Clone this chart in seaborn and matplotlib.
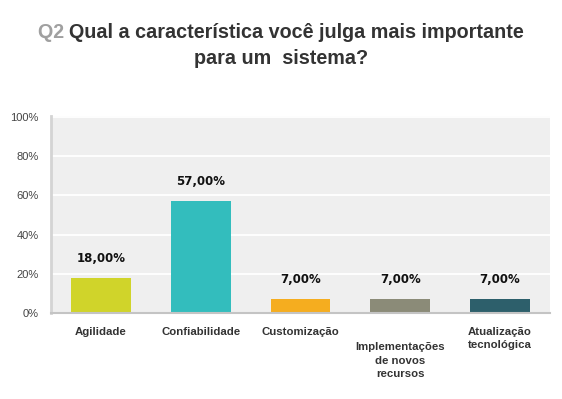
import matplotlib
matplotlib.use("Agg")
import matplotlib.pyplot as plt
import seaborn as sns
import pandas as pd
from matplotlib.ticker import FuncFormatter

# dados da pergunta Q2
categorias = ['Agilidade', 'Confiabilidade', 'Customização',
              'Implementações\nde novos\nrecursos', 'Atualização\ntecnológica']
percentuais = [18.0, 57.0, 7.0, 7.0, 7.0]
cores = ['#d0d42a', '#33bdbd', '#f5ad1f', '#8b8b78', '#2d5f6b']
yticks = [0, 20, 40, 60, 80, 100]

df = pd.DataFrame({'cat': categorias, 'pct': percentuais})

sns.set_style('white')
plt.rcParams['font.family'] = ['Liberation Sans', 'DejaVu Sans']

fig = plt.figure(figsize=(5.62, 3.99), dpi=100)
ax = fig.add_axes([51 / 562, 1 - 313 / 399, 499 / 562, 197 / 399])
ax.set_facecolor('#efefef')

sns.barplot(data=df, x='cat', y='pct', hue='cat', palette=cores,
            width=0.6, legend=False, ax=ax, saturation=1, linewidth=0)

ax.set_xlim(-0.5, 4.5)
ax.set_ylim(0, 100.5)
ax.set_yticks(yticks)
ax.yaxis.set_major_formatter(FuncFormatter(lambda v, p: '%d%%' % v))
ax.grid(axis='y', color='white', linewidth=1.3)
ax.set_axisbelow(True)

ax.set_xlabel('')
ax.set_ylabel('')
ax.tick_params(axis='both', length=0)
ax.tick_params(axis='y', labelsize=8, labelcolor='#444444', pad=9)
ax.tick_params(axis='x', labelsize=8.2, labelcolor='#333333', pad=10)
for lbl in ax.get_xticklabels():
    lbl.set_fontweight('bold')
    lbl.set_linespacing(1.45)
# o rótulo de "Implementações" fica uma linha abaixo
ax.xaxis.get_major_ticks()[3].set_pad(21)

for s in ['top', 'right']:
    ax.spines[s].set_visible(False)
ax.spines['left'].set_color('#d4d4d4')
ax.spines['left'].set_linewidth(2)
ax.spines['bottom'].set_color('#c4c4c4')
ax.spines['bottom'].set_linewidth(1.5)

# valores acima das barras
for i, v in enumerate(percentuais):
    ax.annotate(('%.2f%%' % v).replace('.', ','), (i, v), xytext=(0, 14),
                textcoords='offset points', ha='center', va='center',
                fontsize=8.5, fontweight='bold', family='DejaVu Sans',
                color='#111111')

# título em duas cores
fs = 14.2
q2 = fig.text(0, 0, 'Q2 ', fontsize=fs, fontweight='bold', color='#a0a0a0')
resto = fig.text(0, 0, 'Qual a característica você julga mais importante',
                 fontsize=fs, fontweight='bold', color='#333333')
fig.canvas.draw()
r = fig.canvas.get_renderer()
w1 = q2.get_window_extent(r).width / fig.bbox.width
w2 = resto.get_window_extent(r).width / fig.bbox.width
x0 = 0.5 - (w1 + w2) / 2
y1 = 1 - 33 / 399
q2.set_position((x0, y1))
q2.set_va('center')
resto.set_position((x0 + w1, y1))
resto.set_va('center')
fig.text(0.5, 1 - 58 / 399, 'para um  sistema?', fontsize=fs, fontweight='bold',
         color='#333333', ha='center', va='center')

fig.savefig('out.png', dpi=100)
